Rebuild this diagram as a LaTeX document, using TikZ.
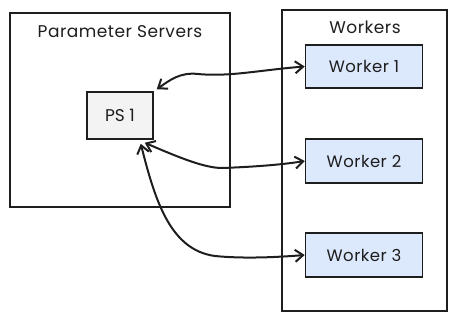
\documentclass[tikz,border=0pt]{standalone}
\usepackage{fontspec}
\setmainfont{Poppins}
\usetikzlibrary{arrows.meta}
\definecolor{psfill}{HTML}{F3F3F3}
\definecolor{wkfill}{HTML}{DCE8FC}
\definecolor{ink}{HTML}{1E1E1E}
\tikzset{
  group/.style={draw=ink, line width=1.6pt},
  psbox/.style={draw=ink, line width=1.5pt, fill=psfill, font=\fontsize{17}{20}\selectfont, text=ink},
  wkbox/.style={draw=ink, line width=1.5pt, fill=wkfill, font=\fontsize{16.5}{20}\selectfont, text=ink},
  ttl/.style={font=\fontsize{17}{20}\selectfont, text=ink},
  link/.style={draw=ink, line width=2pt, {Straight Barb[length=8pt,width=12pt]}-{Straight Barb[length=8pt,width=12pt]}}
}
\begin{document}
\begin{tikzpicture}[x=1pt,y=-1pt]
\useasboundingbox (0,0) rectangle (456,322);
% groups
\draw[group] (10,13) rectangle (230,207);
\node[ttl] (pstitle) at (120,32) {\addfontfeature{LetterSpace=3}Parameter Servers};
\draw[group] (282,10) rectangle (447,311);
\node[ttl] (wktitle) at (365,27) {\addfontfeature{LetterSpace=3}Workers};
% nodes
\node[psbox, minimum width=66pt, minimum height=47pt, inner sep=0pt] (ps) at (120,115.5) {PS 1};
\node[wkbox, minimum width=117pt, minimum height=43pt, inner sep=0pt] (w1) at (364,66.5) {\addfontfeature{LetterSpace=3}Worker 1};
\node[wkbox, minimum width=117pt, minimum height=44pt, inner sep=0pt] (w2) at (364,161) {\addfontfeature{LetterSpace=3}Worker 2};
\node[wkbox, minimum width=117pt, minimum height=44pt, inner sep=0pt] (w3) at (364,255) {\addfontfeature{LetterSpace=3}Worker 3};
% connectors
\draw[link] ([shift={(3pt,2pt)}]ps.north east) .. controls (170,80) and (180,72) .. (198,74) .. controls (230,77) and (260,70) .. (w1.west);
\draw[link] ([shift={(-9pt,-3pt)}]ps.south east) .. controls (180,158) and (205,168) .. (222,168) .. controls (250,167) and (280,165) .. (w2.west);
\draw[link] ([shift={(-13pt,-4pt)}]ps.south east) .. controls (155,200) and (170,250) .. (215,256) .. controls (245,259) and (280,257) .. (w3.west);
\end{tikzpicture}
\end{document}
